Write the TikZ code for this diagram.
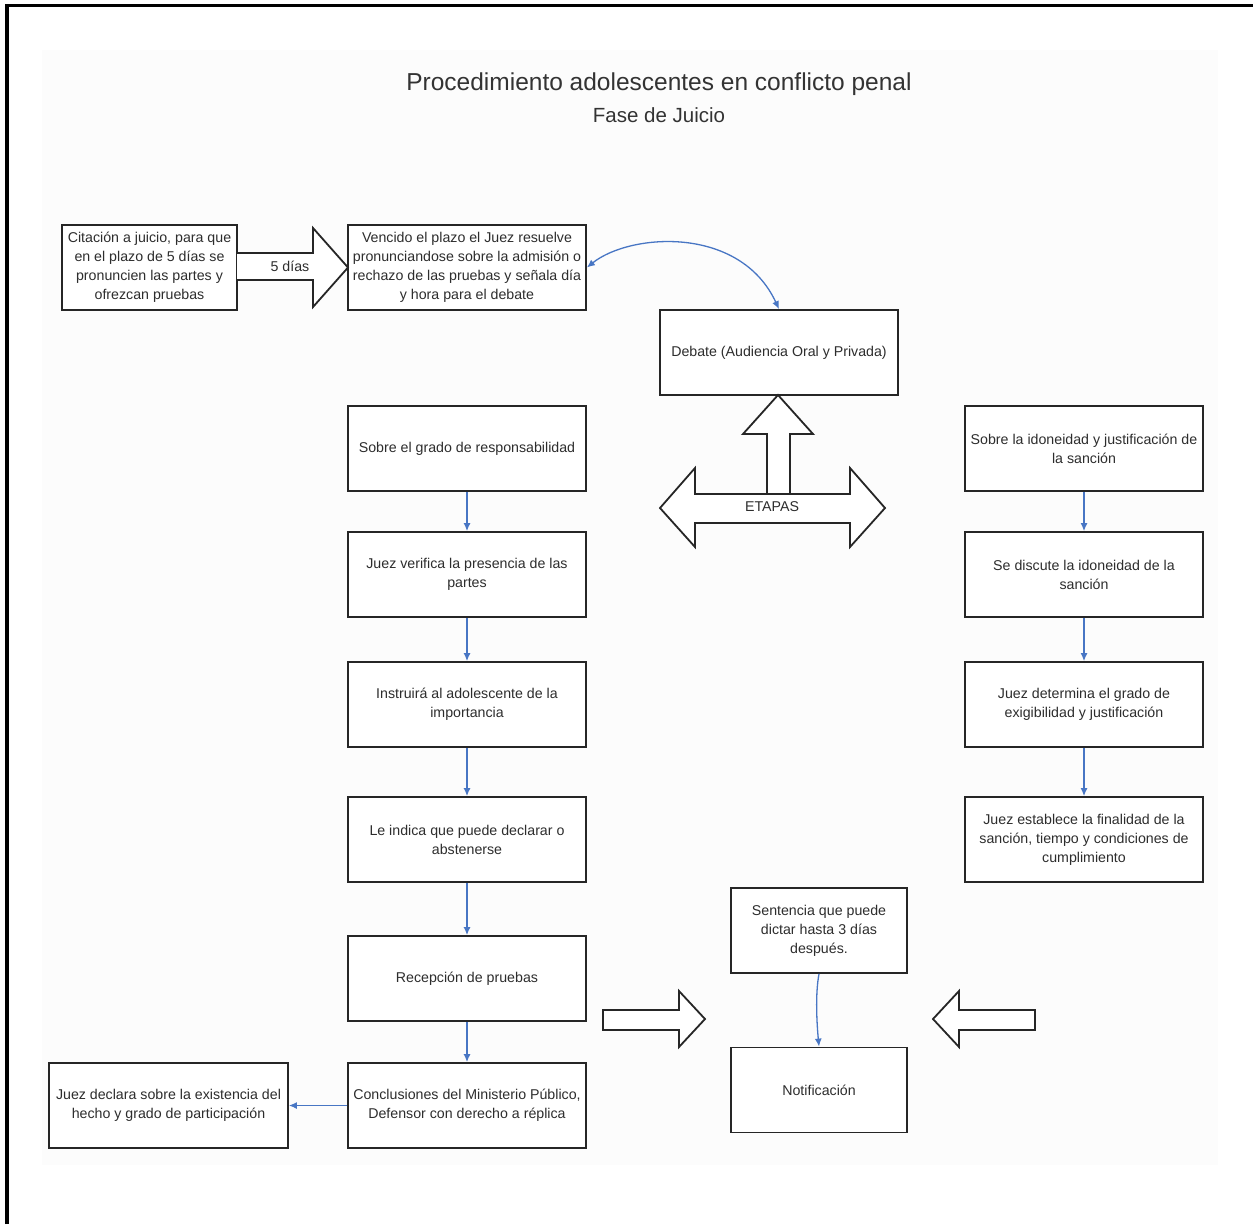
\documentclass[tikz,border=0pt]{standalone}
\usepackage{fontspec}
\setmainfont{Liberation Sans}
\usetikzlibrary{arrows.meta}
\definecolor{conn}{RGB}{72,118,196}
\definecolor{ink}{RGB}{45,45,45}
\begin{document}
\begin{tikzpicture}[x=1pt,y=-1pt,
  box/.style={draw=black!85, line width=1.8pt, fill=white, inner sep=0pt, align=center,
    text=ink, font=\fontsize{14.2}{19}\selectfont},
  wbox/.style={box, minimum width=238pt, minimum height=85pt},
  sbox/.style={box, minimum width=176pt, minimum height=85pt},
  flow/.style={draw=conn, line width=1.3pt, -{Latex[length=8pt,width=7pt]}},
  flowboth/.style={draw=conn, line width=1.3pt, {Latex[length=8pt,width=7pt]}-{Latex[length=8pt,width=7pt]}},
  blockarrow/.style={draw=black!85, line width=1.8pt, fill=white, line join=miter},
  lbl/.style={text=ink, font=\fontsize{14.2}{19}\selectfont, inner sep=0pt}
]
\useasboundingbox (0,0) rectangle (1253,1224);
% faint background and frame
\fill[black!1] (42,50) rectangle (1218,1165);
\draw[line width=3.5pt, black] (7,1224) -- (7,5.5) -- (1253,5.5);

% titles
\node[text=black!80, font=\fontsize{24.5}{28}\selectfont, inner sep=0pt] (title) at (659,84) {Procedimiento adolescentes en conflicto penal};
\node[text=black!80, font=\fontsize{20.5}{24}\selectfont, inner sep=0pt] (subtitle) at (659,115) {Fase de Juicio};

% top row
\node[box, minimum width=175pt, minimum height=85pt] (cit) at (149.5,267.5) {Citación a juicio, para que\\en el plazo de 5 días se\\pronuncien las partes y\\ofrezcan pruebas};
\node[wbox] (ven) at (467,267.5) {Vencido el plazo el Juez resuelve\\pronunciandose sobre la admisión o\\rechazo de las pruebas y señala día\\y hora para el debate};
\node[wbox] (deb) at (779,352.5) {Debate (Audiencia Oral y Privada)};

% 5 dias block arrow
\path[blockarrow, draw=none] (237,253) -- (313,253) -- (313,228) -- (348,267.5) -- (313,307) -- (313,280) -- (237,280) -- cycle;
\draw[blockarrow, fill=none] (237,253) -- (313,253) -- (313,228) -- (348,267.5) -- (313,307) -- (313,280) -- (237,280);
\node[lbl] (cinco) at (290,266) {5 días};

% curved connector
\draw[flowboth] (ven.east) .. controls (630,233) and (740,225) .. (deb.north);

% ETAPAS arrows
\draw[blockarrow] (767,494) -- (767,434) -- (743,434) -- (778,395) -- (813,434) -- (790,434) -- (790,494);
\draw[blockarrow] (660,508) -- (695,468) -- (695,494) -- (850,494) -- (850,468) -- (885,508) -- (850,547) -- (850,523) -- (695,523) -- (695,547) -- cycle;
\node[lbl] (etapas) at (772,507) {ETAPAS};

% left column
\node[wbox] (l1) at (467,448.5) {Sobre el grado de responsabilidad};
\node[wbox] (l2) at (467,574.5) {Juez verifica la presencia de las\\partes};
\node[wbox] (l3) at (467,704.5) {Instruirá al adolescente de la\\importancia};
\node[wbox] (l4) at (467,839.5) {Le indica que puede declarar o\\abstenerse};
\node[wbox] (l5) at (467,978.5) {Recepción de pruebas};
\node[wbox] (l6) at (467,1105.5) {Conclusiones del Ministerio Público,\\Defensor con derecho a réplica};
\node[box, minimum width=239pt, minimum height=85pt] (jd) at (168.5,1105.5) {Juez declara sobre la existencia del\\hecho y grado de participación};

\draw[flow] (l1) -- (l2);
\draw[flow] (l2) -- (l3);
\draw[flow] (l3) -- (l4);
\draw[flow] (l4) -- (l5);
\draw[flow] (l5) -- (l6);
\draw[flow] (l6) -- (jd);

% right column
\node[wbox] (r1) at (1084,448.5) {Sobre la idoneidad y justificación de\\la sanción};
\node[wbox] (r2) at (1084,574.5) {Se discute la idoneidad de la\\sanción};
\node[wbox] (r3) at (1084,704.5) {Juez determina el grado de\\exigibilidad y justificación};
\node[wbox] (r4) at (1084,839.5) {Juez establece la finalidad de la\\sanción, tiempo y condiciones de\\cumplimiento};

\draw[flow] (r1) -- (r2);
\draw[flow] (r2) -- (r3);
\draw[flow] (r3) -- (r4);

% sentencia / notificacion
\node[sbox] (sen) at (819,930.5) {Sentencia que puede\\dictar hasta 3 días\\después.};
\node[sbox] (not) at (819,1090) {Notificación};
\draw[flow] (sen.south) .. controls (815,995) and (817,1025) .. (not.north);

% converging block arrows
\draw[blockarrow] (603,1010) -- (679,1010) -- (679,991) -- (705,1019) -- (679,1047) -- (679,1030) -- (603,1030) -- cycle;
\draw[blockarrow] (1035,1010) -- (959,1010) -- (959,991) -- (933,1019) -- (959,1047) -- (959,1030) -- (1035,1030) -- cycle;
\end{tikzpicture}
\end{document}
